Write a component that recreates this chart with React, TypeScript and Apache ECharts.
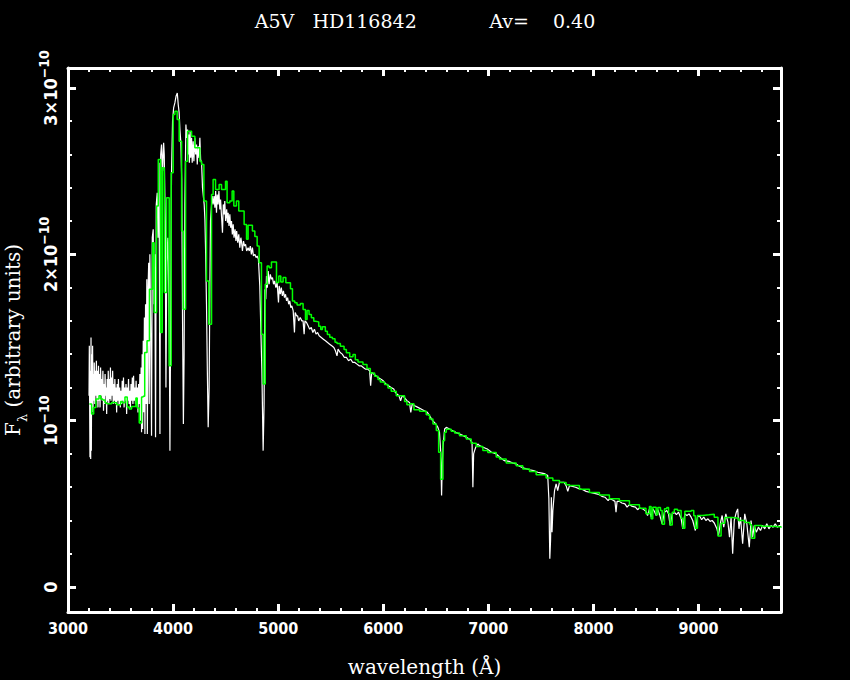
import { useEffect, useRef } from 'react';
import * as echarts from 'echarts';

const TITLE = 'A5V   HD116842            Av=    0.40';
const X_NAME = 'wavelength (Å)';
const X_MIN = 3000;
const X_MAX = 9785;
const Y_MIN = -0.15;
const Y_MAX = 3.12;

const xMajorTicks = [3000, 4000, 5000, 6000, 7000, 8000, 9000];
const xMinorTicks = [
  3200, 3400, 3600, 3800, 4200, 4400, 4600, 4800, 5200, 5400, 5600, 5800,
  6200, 6400, 6600, 6800, 7200, 7400, 7600, 7800, 8200, 8400, 8600, 8800,
  9200, 9400, 9600,
];
const yMajorTicks = [0, 1, 2, 3];
const yMinorTicks = [0.2, 0.4, 0.6, 0.8, 1.2, 1.4, 1.6, 1.8, 2.2, 2.4, 2.6, 2.8];
const yTickLabels = ['{m|0}', '{m|10}{s|−10}', '{m|2×10}{s|−10}', '{m|3×10}{s|−10}'];

// observed spectrum (white), flux in units of 1e-10
const observedSpectrum: [number, number][] = [
  [3200, 1.15], [3203, 1.45], [3206, 1.1], [3209, 0.78], [3213, 1.3], [3216, 0.77], [3219, 1.5], [3222, 0.82],
  [3226, 1.4], [3230, 1.05], [3234, 1.45], [3238, 1.08], [3242, 1.28], [3246, 1.12], [3250, 1.35], [3255, 1.1],
  [3260, 1.3], [3265, 1.15], [3270, 1.36], [3275, 1.12], [3280, 1.3], [3285, 1.08], [3290, 1.33], [3296, 1.12],
  [3300, 1.28], [3305, 1.08], [3310, 1.32], [3316, 1.15], [3320, 1.25], [3326, 1.12], [3332, 1.3], [3338, 1.06],
  [3343, 1.22], [3348, 1.1], [3353, 1.28], [3358, 1.15], [3363, 1.2], [3368, 1.04], [3373, 1.25], [3378, 1.12],
  [3383, 1.3], [3388, 1.1], [3393, 1.25], [3399, 1.13], [3404, 1.32], [3409, 1.12], [3414, 1.26], [3420, 1.15],
  [3425, 1.3], [3430, 1.1], [3436, 1.22], [3441, 1.12], [3446, 1.25], [3452, 1.1], [3458, 1.2], [3463, 1.05],
  [3468, 1.22], [3474, 1.12], [3480, 1.25], [3486, 1.1], [3492, 1.2], [3498, 1.08], [3504, 1.18], [3510, 1.1],
  [3516, 1.24], [3522, 1.12], [3528, 1.26], [3534, 1.08], [3540, 1.2], [3546, 1.12], [3552, 1.22], [3558, 1.04],
  [3564, 1.2], [3570, 1.12], [3576, 1.25], [3582, 1.1], [3588, 1.18], [3594, 1.08], [3600, 1.22], [3606, 1.12],
  [3612, 1.26], [3618, 1.1], [3624, 1.27], [3630, 1.12], [3636, 1.2], [3642, 1.1], [3648, 1.24], [3654, 1.12],
  [3660, 1.2], [3666, 1.05], [3672, 1.22], [3678, 1.1], [3684, 1.28], [3690, 1.0], [3696, 1.32], [3700, 0.93],
  [3706, 1.4], [3710, 0.95], [3716, 1.48], [3721, 1.05], [3727, 1.62], [3732, 0.92], [3738, 1.7], [3744, 1.1],
  [3750, 1.85], [3755, 0.92], [3762, 1.8], [3768, 1.95], [3773, 1.1], [3779, 2.0], [3786, 1.6], [3795, 0.91],
  [3802, 2.1], [3811, 2.15], [3818, 1.7], [3826, 2.0], [3833, 0.9], [3840, 2.3], [3849, 2.37], [3856, 2.1],
  [3866, 2.55], [3875, 0.92], [3882, 2.6], [3890, 2.66], [3900, 2.5], [3910, 2.67], [3916, 2.6], [3925, 2.2],
  [3932, 1.2], [3940, 1.95], [3950, 2.1], [3958, 1.8], [3965, 1.4], [3970, 0.82], [3976, 1.5], [3985, 2.49],
  [3995, 2.8], [4005, 2.88], [4017, 2.91], [4028, 2.95], [4040, 2.97], [4049, 2.9], [4058, 2.85], [4065, 2.75],
  [4074, 2.67], [4082, 2.45], [4090, 1.6], [4098, 0.98], [4105, 1.4], [4112, 2.3], [4122, 2.78], [4130, 2.7],
  [4138, 2.75], [4144, 2.6], [4150, 2.72], [4155, 2.55], [4162, 2.74], [4168, 2.58], [4176, 2.7], [4182, 2.55],
  [4191, 2.68], [4198, 2.56], [4207, 2.7], [4215, 2.6], [4223, 2.66], [4230, 2.54], [4239, 2.65], [4247, 2.58],
  [4255, 2.7], [4262, 2.57], [4271, 2.55], [4280, 2.4], [4288, 2.35], [4296, 2.3], [4303, 2.21], [4310, 2.0],
  [4318, 1.7], [4326, 1.3], [4334, 0.96], [4343, 1.2], [4350, 1.8], [4356, 2.2], [4366, 2.3], [4372, 2.35],
  [4381, 2.3], [4390, 2.35], [4398, 2.28], [4405, 2.38], [4413, 2.25], [4420, 2.36], [4428, 2.3], [4436, 2.38],
  [4445, 2.27], [4452, 2.33], [4460, 2.24], [4470, 2.13], [4478, 2.3], [4486, 2.24], [4492, 2.32], [4500, 2.2],
  [4510, 2.27], [4518, 2.19], [4524, 2.25], [4532, 2.17], [4540, 2.24], [4548, 2.16], [4556, 2.2], [4564, 2.12],
  [4572, 2.18], [4580, 2.1], [4590, 2.15], [4598, 2.08], [4605, 2.14], [4615, 2.07], [4625, 2.12], [4635, 2.04],
  [4645, 2.1], [4652, 2.07], [4660, 2.02], [4670, 2.08], [4680, 2.05], [4690, 2.06], [4700, 2.02], [4714, 2.04],
  [4725, 2.02], [4735, 2.05], [4745, 2.0], [4755, 2.04], [4765, 1.99], [4778, 2.0], [4790, 1.98], [4800, 1.99],
  [4812, 1.97], [4825, 1.81], [4835, 1.55], [4845, 1.3], [4857, 0.82], [4866, 1.1], [4873, 1.79], [4882, 1.73],
  [4889, 1.87], [4897, 1.8], [4905, 1.9], [4914, 1.82], [4925, 1.88], [4936, 1.85], [4946, 1.86], [4956, 1.82],
  [4966, 1.84], [4978, 1.8], [4990, 1.83], [5003, 1.71], [5010, 1.81], [5020, 1.76], [5030, 1.8], [5040, 1.75],
  [5050, 1.78], [5060, 1.74], [5070, 1.76], [5080, 1.72], [5090, 1.74], [5100, 1.7], [5110, 1.72], [5120, 1.68],
  [5130, 1.69], [5143, 1.66], [5155, 1.53], [5162, 1.65], [5175, 1.63], [5185, 1.63], [5195, 1.6], [5210, 1.62],
  [5225, 1.6], [5237, 1.6], [5247, 1.52], [5255, 1.6], [5270, 1.59], [5285, 1.57], [5300, 1.55], [5315, 1.56],
  [5330, 1.53], [5345, 1.55], [5360, 1.52], [5375, 1.53], [5390, 1.51], [5410, 1.5], [5430, 1.49], [5450, 1.48],
  [5470, 1.47], [5490, 1.46], [5510, 1.45], [5530, 1.44], [5545, 1.42], [5560, 1.39], [5570, 1.43], [5590, 1.41],
  [5610, 1.4], [5630, 1.38], [5650, 1.38], [5670, 1.36], [5690, 1.37], [5710, 1.35], [5730, 1.35], [5750, 1.34],
  [5770, 1.33], [5790, 1.33], [5810, 1.32], [5830, 1.31], [5850, 1.31], [5870, 1.3], [5880, 1.21], [5890, 1.29],
  [5910, 1.28], [5930, 1.27], [5950, 1.26], [5975, 1.25], [6000, 1.24], [6025, 1.22], [6050, 1.21], [6075, 1.2],
  [6100, 1.19], [6115, 1.17], [6130, 1.16], [6150, 1.15], [6165, 1.12], [6180, 1.15], [6200, 1.14], [6225, 1.12],
  [6250, 1.11], [6262, 1.05], [6275, 1.1], [6300, 1.09], [6330, 1.08], [6360, 1.07], [6390, 1.06], [6420, 1.05],
  [6450, 1.02], [6470, 1.0], [6500, 0.98], [6520, 0.96], [6535, 0.93], [6548, 0.8], [6555, 0.55], [6562, 0.75],
  [6570, 0.85], [6584, 0.95], [6600, 0.96], [6630, 0.95], [6660, 0.94], [6690, 0.93], [6726, 0.92], [6760, 0.91],
  [6790, 0.9], [6820, 0.89], [6845, 0.87], [6853, 0.6], [6860, 0.8], [6869, 0.82], [6880, 0.84], [6900, 0.86],
  [6916, 0.85], [6950, 0.84], [6990, 0.83], [7030, 0.81], [7075, 0.8], [7110, 0.78], [7150, 0.76], [7200, 0.755],
  [7233, 0.745], [7265, 0.74], [7300, 0.725], [7340, 0.715], [7392, 0.705], [7430, 0.7], [7470, 0.69], [7510, 0.685],
  [7540, 0.68], [7565, 0.67], [7576, 0.53], [7585, 0.17], [7592, 0.28], [7600, 0.54], [7606, 0.33], [7614, 0.46],
  [7630, 0.58], [7645, 0.62], [7660, 0.58], [7677, 0.63], [7700, 0.63], [7720, 0.63], [7740, 0.61], [7756, 0.575],
  [7772, 0.61], [7800, 0.605], [7830, 0.6], [7867, 0.59], [7900, 0.585], [7930, 0.575], [7962, 0.57], [8000, 0.565],
  [8030, 0.56], [8057, 0.555], [8080, 0.545], [8110, 0.54], [8140, 0.52], [8152, 0.53], [8180, 0.525], [8205, 0.515],
  [8215, 0.45], [8225, 0.515], [8247, 0.515], [8270, 0.505], [8300, 0.5], [8320, 0.48], [8343, 0.495], [8370, 0.485],
  [8400, 0.48], [8420, 0.465], [8438, 0.475], [8470, 0.47], [8500, 0.455], [8515, 0.43], [8533, 0.47], [8549, 0.42],
  [8565, 0.47], [8580, 0.455], [8597, 0.43], [8613, 0.465], [8628, 0.44], [8654, 0.38], [8676, 0.45], [8698, 0.46],
  [8715, 0.44], [8730, 0.37], [8750, 0.44], [8770, 0.45], [8790, 0.435], [8810, 0.45], [8835, 0.41], [8850, 0.35],
  [8870, 0.44], [8890, 0.43], [8910, 0.44], [8930, 0.42], [8945, 0.4], [8970, 0.34], [8990, 0.42], [9008, 0.43],
  [9030, 0.405], [9050, 0.42], [9070, 0.4], [9090, 0.41], [9110, 0.395], [9130, 0.4], [9150, 0.385], [9175, 0.35],
  [9190, 0.31], [9210, 0.39], [9225, 0.43], [9240, 0.36], [9260, 0.44], [9280, 0.39], [9295, 0.3], [9310, 0.42],
  [9325, 0.2], [9340, 0.4], [9360, 0.45], [9373, 0.47], [9385, 0.35], [9400, 0.42], [9420, 0.26], [9440, 0.44],
  [9460, 0.38], [9483, 0.24], [9500, 0.4], [9515, 0.3], [9530, 0.37], [9550, 0.33], [9570, 0.36], [9590, 0.34],
  [9610, 0.37], [9630, 0.35], [9650, 0.38], [9670, 0.35], [9690, 0.37], [9710, 0.36], [9730, 0.38], [9750, 0.36],
  [9770, 0.37], [9785, 0.365],
];

// model spectrum (green), histogram bins: [bin start wavelength, flux]
const modelSpectrum: [number, number][] = [
  [3203, 1.1], [3225, 1.04], [3244, 1.08], [3266, 1.13], [3295, 1.15], [3311, 1.13], [3330, 1.125], [3352, 1.108],
  [3368, 1.102], [3415, 1.11], [3437, 1.108], [3463, 1.096], [3501, 1.116], [3517, 1.108], [3542, 1.142], [3564, 1.082],
  [3583, 1.07], [3605, 1.086], [3646, 1.136], [3659, 1.076], [3678, 0.986], [3700, 1.142], [3715, 1.147], [3730, 1.41],
  [3752, 1.48], [3775, 1.79], [3805, 2.07], [3820, 1.65], [3843, 2.29], [3859, 2.57], [3881, 1.53], [3897, 2.52],
  [3916, 1.77], [3938, 2.34], [3963, 1.33], [3982, 2.49], [4001, 2.84], [4017, 2.86], [4039, 2.81], [4058, 2.68],
  [4081, 2.14], [4096, 1.67], [4119, 2.56], [4138, 2.74], [4176, 2.71], [4207, 2.64], [4255, 2.56], [4271, 2.54],
  [4293, 2.32], [4318, 1.84], [4340, 1.58], [4366, 2.36], [4381, 2.45], [4404, 2.39], [4438, 2.42], [4461, 2.39],
  [4499, 2.44], [4514, 2.31], [4540, 2.32], [4562, 2.38], [4578, 2.29], [4603, 2.32], [4625, 2.26], [4676, 2.18],
  [4699, 2.09], [4714, 2.175], [4755, 2.14], [4778, 2.107], [4800, 2.05], [4819, 1.95], [4841, 1.52], [4857, 1.22],
  [4877, 1.82], [4895, 1.93], [4914, 1.92], [4936, 1.954], [4984, 1.83], [5006, 1.87], [5025, 1.833], [5047, 1.86],
  [5073, 1.829], [5117, 1.793], [5136, 1.719], [5158, 1.709], [5180, 1.695], [5212, 1.705], [5237, 1.669], [5260, 1.608],
  [5275, 1.663], [5294, 1.639], [5316, 1.618], [5339, 1.598], [5354, 1.594], [5386, 1.568], [5405, 1.548], [5421, 1.564],
  [5449, 1.538], [5468, 1.518], [5491, 1.502], [5516, 1.492], [5541, 1.472], [5560, 1.464], [5592, 1.448], [5627, 1.428],
  [5649, 1.408], [5681, 1.384], [5712, 1.398], [5734, 1.367], [5760, 1.353], [5807, 1.337], [5845, 1.313], [5877, 1.287],
  [5918, 1.267], [5950, 1.247], [5972, 1.233], [6013, 1.217], [6045, 1.197], [6076, 1.177], [6124, 1.15], [6203, 1.116],
  [6225, 1.096], [6251, 1.102], [6292, 1.066], [6346, 1.056], [6409, 1.036], [6441, 1.01], [6473, 0.98], [6505, 0.941],
  [6527, 0.811], [6546, 0.648], [6568, 0.881], [6584, 0.93], [6600, 0.949], [6647, 0.936], [6679, 0.926], [6726, 0.91],
  [6790, 0.89], [6837, 0.865], [6885, 0.845], [6948, 0.821], [6995, 0.809], [7075, 0.781], [7107, 0.769], [7170, 0.745],
  [7265, 0.729], [7328, 0.709], [7392, 0.695], [7455, 0.675], [7550, 0.655], [7614, 0.641], [7677, 0.629], [7740, 0.615],
  [7772, 0.61], [7867, 0.588], [7962, 0.568], [8057, 0.554], [8152, 0.53], [8247, 0.518], [8343, 0.494], [8438, 0.474],
  [8500, 0.44], [8533, 0.484], [8549, 0.41], [8565, 0.48], [8597, 0.434], [8613, 0.478], [8638, 0.46], [8654, 0.377],
  [8676, 0.47], [8698, 0.478], [8715, 0.44], [8730, 0.373], [8750, 0.45], [8770, 0.468], [8800, 0.46], [8835, 0.414],
  [8850, 0.353], [8870, 0.455], [8930, 0.46], [8955, 0.428], [8970, 0.353], [8990, 0.43], [9040, 0.434], [9100, 0.438],
  [9150, 0.42], [9185, 0.307], [9215, 0.384], [9250, 0.418], [9320, 0.414], [9380, 0.4], [9440, 0.388], [9490, 0.375],
  [9505, 0.293], [9535, 0.37], [9600, 0.365], [9680, 0.362], [9785, 0.357],
];

const WHITE = '#ffffff';
const GREEN = '#00ff00';
const TICK_FONT = "'DejaVu Sans Condensed', 'DejaVu Sans', sans-serif";
const TEXT_FONT = "'DejaVu Serif', serif";

function makeAxis(kind: 'x' | 'y', position: string, major: boolean, withLabels: boolean) {
  const isX = kind === 'x';
  const axis: any = {
    type: 'value',
    position,
    min: isX ? X_MIN : Y_MIN,
    max: isX ? X_MAX : Y_MAX,
    splitLine: { show: false },
    axisLine: { show: major, onZero: false, lineStyle: { color: WHITE, width: 3 } },
    axisTick: {
      show: true,
      inside: true,
      length: major ? 8 : 4,
      lineStyle: { color: WHITE, width: major ? 3 : 2 },
      customValues: major ? (isX ? xMajorTicks : yMajorTicks) : isX ? xMinorTicks : yMinorTicks,
    },
    axisLabel: { show: false },
  };
  if (withLabels && isX) {
    axis.axisLabel = {
      show: true,
      customValues: xMajorTicks,
      margin: 8,
      color: WHITE,
      fontFamily: TICK_FONT,
      fontWeight: 'bold',
      fontSize: 16,
      formatter: (v: number) => String(v),
    };
    axis.name = X_NAME;
    axis.nameLocation = 'middle';
    axis.nameGap = 45;
    axis.nameTextStyle = { color: WHITE, fontFamily: TEXT_FONT, fontSize: 20 };
  }
  if (withLabels && !isX) {
    axis.axisLabel = {
      show: true,
      customValues: yMajorTicks,
      rotate: 90,
      margin: 9,
      color: WHITE,
      formatter: (v: number) => {
        const i = yMajorTicks.indexOf(Math.round(v));
        return i >= 0 ? yTickLabels[i] : '';
      },
      rich: {
        m: { color: WHITE, fontFamily: TICK_FONT, fontWeight: 'bold', fontSize: 18, lineHeight: 22, verticalAlign: 'bottom' },
        s: { color: WHITE, fontFamily: TICK_FONT, fontWeight: 'bold', fontSize: 14, lineHeight: 14, verticalAlign: 'top' },
      },
    };
    axis.name = '{f|F}{l|λ}{f| (arbitrary units)}';
    axis.nameLocation = 'middle';
    axis.nameGap = 35;
    axis.nameRotate = 90;
    axis.nameTextStyle = {
      color: WHITE,
      rich: {
        f: { color: WHITE, fontFamily: TEXT_FONT, fontSize: 20, lineHeight: 26, verticalAlign: 'top' },
        l: { color: WHITE, fontFamily: TEXT_FONT, fontSize: 13, lineHeight: 13, verticalAlign: 'bottom' },
      },
    };
  }
  return axis;
}

export default function App() {
  const ref = useRef<HTMLDivElement>(null);
  useEffect(() => {
    if (!ref.current) return;
    const chart = echarts.init(ref.current, undefined, { renderer: 'svg' });
    chart.setOption({
      animation: false,
      backgroundColor: '#000000',
      title: {
        text: TITLE,
        left: 'center',
        top: 6,
        textStyle: { color: WHITE, fontFamily: TEXT_FONT, fontSize: 19, fontWeight: 'normal' },
      },
      grid: { left: 68, right: 69, top: 68, bottom: 68, containLabel: false, outerBoundsMode: 'none' },
      xAxis: [
        makeAxis('x', 'bottom', true, true),
        makeAxis('x', 'bottom', false, false),
        makeAxis('x', 'top', true, false),
        makeAxis('x', 'top', false, false),
      ],
      yAxis: [
        makeAxis('y', 'left', true, true),
        makeAxis('y', 'left', false, false),
        makeAxis('y', 'right', true, false),
        makeAxis('y', 'right', false, false),
      ],
      series: [
        {
          type: 'line',
          name: 'observed',
          xAxisIndex: 0,
          yAxisIndex: 0,
          data: observedSpectrum,
          showSymbol: false,
          symbol: 'none',
          lineStyle: { color: WHITE, width: 1.2 },
          z: 2,
        },
        {
          type: 'line',
          name: 'model',
          xAxisIndex: 0,
          yAxisIndex: 0,
          data: modelSpectrum,
          step: 'end',
          showSymbol: false,
          symbol: 'none',
          lineStyle: { color: GREEN, width: 1.5 },
          z: 3,
        },
      ],
    });
    return () => chart.dispose();
  }, []);
  return (
    <div
      ref={ref}
      style={{ position: 'fixed', left: 0, top: 0, width: 850, height: 680, background: '#000000' }}
    />
  );
}
